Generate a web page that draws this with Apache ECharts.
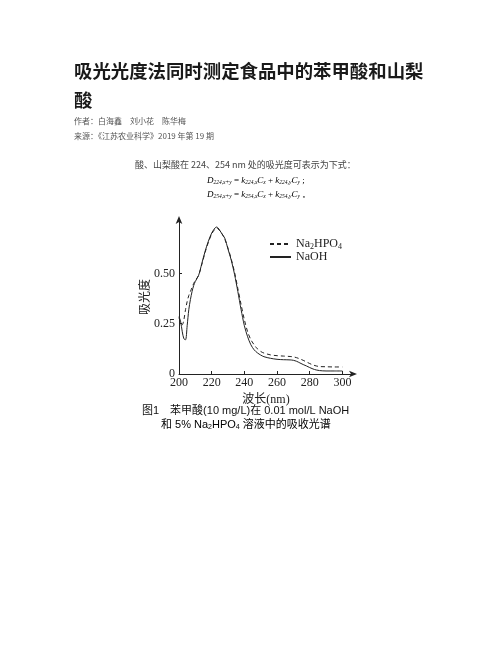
<!DOCTYPE html>
<html>
<head>
<meta charset="utf-8">
<script src="https://cdn.jsdelivr.net/npm/echarts@6/dist/echarts.min.js"></script>
<style>
html,body{margin:0;padding:0;background:#fff;}
#c{width:502px;height:649px;}
</style>
</head>
<body>
<div id="c"></div>
<script>
// ---- data ----
const wavelengths = [200,201,202,203,204,205,206,207,208,209,210,212,214,216,218,220,222,223,224,226,228,230,232,234,236,238,240,242,244,246,248,250,252,256,260,264,268,270,272,274,276,278,280,282,284,286,290,295,300];
const naohValues = [0.285,0.26,0.21,0.175,0.17,0.24,0.32,0.37,0.41,0.44,0.46,0.49,0.55,0.61,0.66,0.70,0.725,0.73,0.725,0.70,0.675,0.62,0.565,0.495,0.41,0.32,0.24,0.185,0.145,0.12,0.105,0.094,0.086,0.078,0.073,0.071,0.070,0.068,0.063,0.055,0.047,0.040,0.032,0.025,0.020,0.017,0.015,0.015,0.015];
const na2hpo4Values = [0.28,0.255,0.245,0.27,0.32,0.36,0.39,0.41,0.43,0.45,0.465,0.49,0.545,0.605,0.655,0.695,0.72,0.725,0.72,0.70,0.67,0.625,0.57,0.505,0.425,0.345,0.27,0.21,0.17,0.145,0.125,0.112,0.104,0.095,0.091,0.089,0.087,0.085,0.081,0.075,0.068,0.060,0.052,0.045,0.040,0.037,0.036,0.035,0.035];
const xTicks = [200,220,240,260,280,300];
const yTicks = [0,0.25,0.5];
const seriesNames = ['Na2HPO4','NaOH'];

const titleLine1 = '吸光光度法同时测定食品中的苯甲酸和山梨';
const titleLine2 = '酸';
const authorLine = '作者：白海鑫　刘小花　陈华梅';
const sourceLine = '来源：《江苏农业科学》2019 年第 19 期';
const formulaIntro = '酸、山梨酸在 224、254 nm 处的吸光度可表示为下式：';
const captionLine1 = '图1　苯甲酸(10 mg/L)在 0.01 mol/L NaOH';

const pair = (vals) => wavelengths.map((w, i) => [w, vals[i]]);

const serif = '"Liberation Serif","DejaVu Serif",serif';
const cjk = '"Noto Sans CJK SC","Noto Sans",sans-serif';
const sansCjk = '"Liberation Sans","Noto Sans CJK SC",sans-serif';

const chart = echarts.init(document.getElementById('c'), null, {renderer: 'canvas'});

const formulaRich = {
  i: {fontFamily: serif, fontStyle: 'italic', fontSize: 9, color: '#444'},
  n: {fontFamily: serif, fontSize: 9, color: '#444'},
  s: {fontFamily: serif, fontStyle: 'italic', fontSize: 5.5, color: '#444', padding: [5, 0, 0, 0]}
};
function formula(wl, end) {
  return '{i|D}{s|' + wl + ',x+y}{n| = }{i|k}{s|' + wl + ',x}{i|C}{s|x}{n| + }{i|k}{s|' + wl + ',y}{i|C}{s|y}{n|' + end + '}';
}

chart.setOption({
  backgroundColor: '#fff',
  animation: false,
  grid: {left: 179, right: 149, top: 220, bottom: 275, containLabel: false},
  legend: {
    orient: 'vertical',
    left: 264,
    top: 233,
    itemWidth: 21,
    itemHeight: 8,
    itemGap: 0,
    data: seriesNames,
    itemStyle: {opacity: 0},
    formatter: function (name) {
      if (name === 'Na2HPO4') return '{a|Na}{s|2}{a|HPO}{s|4}';
      return '{a|' + name + '}';
    },
    textStyle: {
      rich: {
        a: {fontFamily: serif, fontSize: 12, color: '#222'},
        s: {fontFamily: serif, fontSize: 8, color: '#222', padding: [6, 0, 0, 0]}
      }
    }
  },
  xAxis: {
    type: 'value',
    min: 200,
    max: 306.5,
    interval: 20,
    name: '波长(nm)',
    nameLocation: 'middle',
    nameGap: 20,
    nameTextStyle: {fontFamily: '"Liberation Serif","Noto Sans CJK SC",serif', fontSize: 12, color: '#222'},
    splitLine: {show: false},
    axisLine: {lineStyle: {color: '#222', width: 1}, symbol: ['none', 'arrow'], symbolSize: [5, 8], symbolOffset: [0, 4]},
    axisTick: {inside: true, length: 3, lineStyle: {color: '#222'}, customValues: xTicks},
    axisLabel: {fontFamily: serif, fontSize: 12, color: '#222', margin: 3, customValues: xTicks}
  },
  yAxis: {
    type: 'value',
    min: 0,
    max: 0.765,
    interval: 0.25,
    name: '吸光度',
    nameLocation: 'middle',
    nameGap: 28,
    nameTextStyle: {fontFamily: cjk, fontSize: 12, color: '#222'},
    splitLine: {show: false},
    axisLine: {lineStyle: {color: '#222', width: 1}, symbol: ['none', 'arrow'], symbolSize: [5, 8], symbolOffset: [0, 4]},
    axisTick: {inside: true, length: 3, lineStyle: {color: '#222'}, customValues: yTicks},
    axisLabel: {
      fontFamily: serif, fontSize: 12, color: '#222', margin: 4, customValues: yTicks,
      formatter: v => (v === 0 ? '0' : v.toFixed(2))
    }
  },
  series: [
    {
      name: 'Na2HPO4', type: 'line', data: pair(na2hpo4Values), smooth: 0.3, symbol: 'none',
      lineStyle: {color: '#222', width: 1, type: [4, 3]}, itemStyle: {color: '#222'}
    },
    {
      name: 'NaOH', type: 'line', data: pair(naohValues), smooth: 0.3, symbol: 'none',
      lineStyle: {color: '#222', width: 1, type: 'solid'}, itemStyle: {color: '#222'}
    }
  ],
  graphic: [
    {type: 'text', left: 74, top: 62, style: {text: titleLine1, fontFamily: cjk, fontSize: 18.4, fontWeight: 'bold', fill: '#1a1a1a'}},
    {type: 'text', left: 74, top: 91, style: {text: titleLine2, fontFamily: cjk, fontSize: 18.4, fontWeight: 'bold', fill: '#1a1a1a'}},
    {type: 'text', left: 74, top: 117, style: {text: authorLine, fontFamily: cjk, fontSize: 8, fill: '#555'}},
    {type: 'text', left: 74, top: 132, style: {text: sourceLine, fontFamily: cjk, fontSize: 8, fill: '#555'}},
    {type: 'text', left: 135, top: 160, style: {text: formulaIntro, fontFamily: cjk, fontSize: 9, fill: '#444'}},
    {type: 'text', left: 207, top: 176, style: {text: formula(224, ' ;'), rich: formulaRich}},
    {type: 'text', left: 207, top: 190, style: {text: formula(254, ' 。'), rich: formulaRich}},
    {type: 'text', left: 142, top: 405, style: {text: captionLine1, fontFamily: sansCjk, fontSize: 11, fill: '#111'}},
    {type: 'text', left: 161, top: 419, style: {
      text: '{a|和 5% Na}{s|2}{a|HPO}{s|4}{a| 溶液中的吸收光谱}',
      rich: {
        a: {fontFamily: sansCjk, fontSize: 11, color: '#111'},
        s: {fontFamily: sansCjk, fontSize: 7, color: '#111', padding: [5, 0, 0, 0]}
      }
    }}
  ]
});
</script>
</body>
</html>
